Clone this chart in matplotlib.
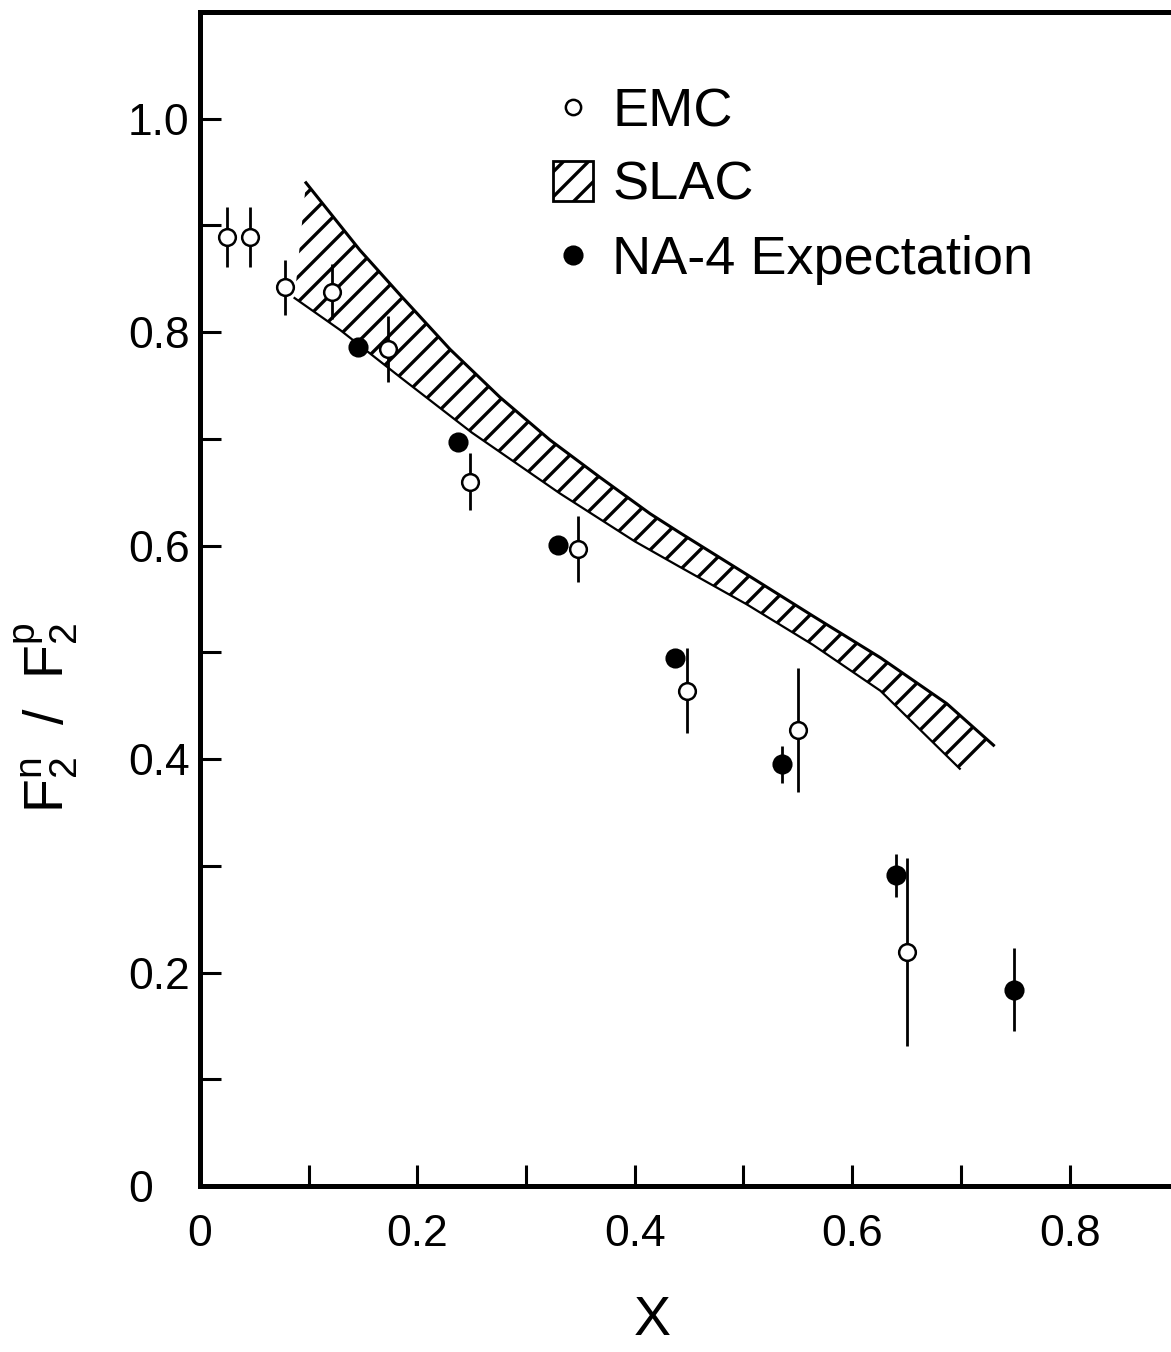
import numpy as np
import matplotlib.pyplot as plt
from matplotlib.lines import Line2D
from matplotlib.patches import Patch

# figure rendered at 150 dpi so the hatch comes out dense; k converts 100-dpi point sizes
DPI = 150
k = 100 / DPI

plt.rcParams['font.family'] = ['Liberation Sans', 'DejaVu Sans']
plt.rcParams['mathtext.fontset'] = 'custom'
plt.rcParams['mathtext.rm'] = 'Liberation Sans'
plt.rcParams['mathtext.it'] = 'Liberation Sans'
plt.rcParams['hatch.linewidth'] = 2.4 * k

# EMC data (open circles)
emc_x = [0.025, 0.046, 0.078, 0.121, 0.173, 0.248, 0.348, 0.448, 0.550, 0.650]
emc_y = [0.889, 0.889, 0.842, 0.838, 0.784, 0.660, 0.597, 0.464, 0.427, 0.219]
emc_err = [0.028, 0.028, 0.026, 0.026, 0.031, 0.027, 0.031, 0.040, 0.058, 0.088]

# NA-4 expectation (filled circles)
na4_x = [0.145, 0.237, 0.329, 0.437, 0.535, 0.640, 0.749]
na4_y = [0.786, 0.697, 0.601, 0.495, 0.395, 0.291, 0.184]
na4_err = [0, 0, 0, 0, 0.017, 0.020, 0.039]

# SLAC band edges
slac_upper_x = [0.0975, 0.147, 0.184, 0.230, 0.276, 0.322, 0.368, 0.414, 0.4416,
                0.503, 0.564, 0.626, 0.687, 0.730]
slac_upper_y = [0.940, 0.877, 0.835, 0.784, 0.739, 0.699, 0.664, 0.630, 0.612,
                0.573, 0.534, 0.495, 0.452, 0.413]
slac_lower_x = [0.087, 0.129, 0.184, 0.25, 0.331, 0.40, 0.4416, 0.503, 0.564, 0.626, 0.699]
slac_lower_y = [0.832, 0.802, 0.758, 0.706, 0.649, 0.604, 0.580, 0.545, 0.507, 0.464, 0.391]

x_ticks = np.arange(0, 9) / 10
x_labels = ['0', '', '0.2', '', '0.4', '', '0.6', '', '0.8']
y_ticks = np.arange(0, 11) / 10
y_labels = ['0', '', '0.2', '', '0.4', '', '0.6', '', '0.8', '', '1.0']

fig = plt.figure(figsize=(1171 / DPI, 1352 / DPI), dpi=DPI)
ax = fig.add_axes([0.1708, 0.1228, 0.8354, 0.8683])

# hatched SLAC band
band_x = np.concatenate([slac_upper_x, slac_lower_x[::-1]])
band_y = np.concatenate([slac_upper_y, slac_lower_y[::-1]])
ax.fill(band_x, band_y, fill=False, hatch='//', edgecolor='black', linewidth=0, zorder=1)
ax.plot(slac_upper_x, slac_upper_y, color='black', lw=2.2 * k, zorder=2)
ax.plot(slac_lower_x, slac_lower_y, color='black', lw=1.6 * k, zorder=2)

ax.errorbar(emc_x, emc_y, yerr=emc_err, fmt='o', ms=12 * k, mfc='white', mec='black',
            mew=1.8 * k, ecolor='black', elinewidth=2 * k, capsize=0, zorder=3)
ax.errorbar(na4_x, na4_y, yerr=na4_err, fmt='o', ms=13 * k, mfc='black', mec='black',
            ecolor='black', elinewidth=2 * k, capsize=0, zorder=3)

ax.set_xlim(0, 0.9)
ax.set_ylim(0, 1.1)
ax.set_xticks(x_ticks)
ax.set_xticklabels(x_labels)
ax.set_yticks(y_ticks)
ax.set_yticklabels(y_labels)
ax.tick_params(direction='in', length=15 * k, width=2.2 * k, labelsize=32 * k)
ax.tick_params(axis='x', pad=20 * k)
ax.tick_params(axis='y', pad=52 * k)
for lbl in ax.get_yticklabels():
    lbl.set_horizontalalignment('left')

for side in ['left', 'bottom', 'top']:
    ax.spines[side].set_linewidth(3.6 * k)
ax.spines['right'].set_visible(False)

ax.set_xlabel('X', fontsize=40 * k)
ax.xaxis.set_label_coords(0.462, -0.093)
ax.set_ylabel(r'$\mathrm{F_2^n\ \ /\ \ F_2^p}$', fontsize=40 * k)
ax.yaxis.set_label_coords(-0.123, 0.399)

handles = [
    Line2D([], [], ls='none', marker='o', ms=11 * k, mfc='white', mec='black', mew=1.8 * k),
    Patch(facecolor='white', edgecolor='black', hatch='//', lw=2 * k),
    Line2D([], [], ls='none', marker='o', ms=13 * k, mfc='black', mec='black'),
]
ax.legend(handles, ['EMC', 'SLAC', 'NA-4 Expectation'], loc='upper left',
          bbox_to_anchor=(0.361, 0.936), frameon=False, fontsize=39 * k,
          handlelength=0.74, handleheight=0.74, handletextpad=0.35,
          labelspacing=0.44, borderpad=0, borderaxespad=0)

fig.savefig('out.png', dpi=DPI)
